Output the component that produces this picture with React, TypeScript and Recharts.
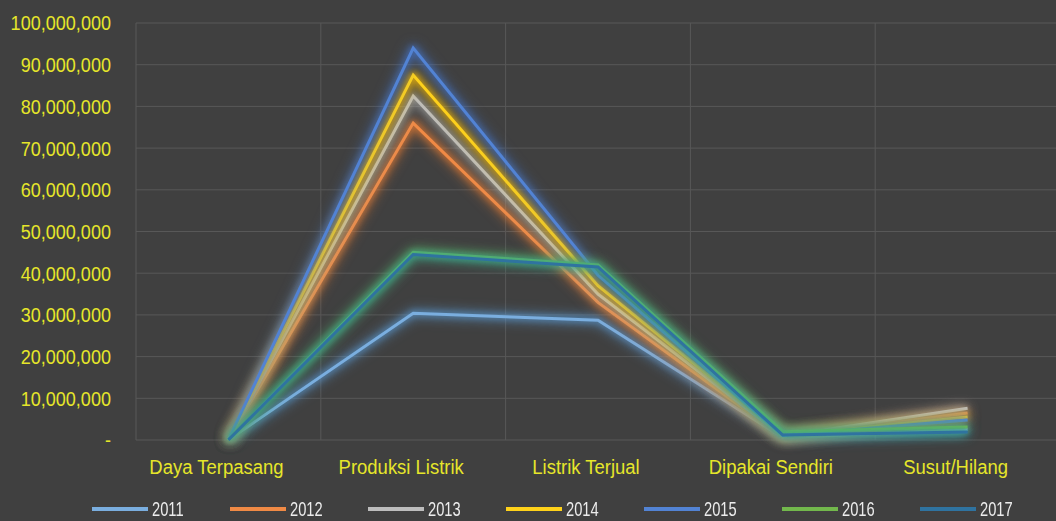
import { LineChart, Line, XAxis, YAxis, CartesianGrid, Legend } from 'recharts';

const categories = ['Daya Terpasang', 'Produksi Listrik', 'Listrik Terjual', 'Dipakai Sendiri', 'Susut/Hilang'];

const v2011 = [29000, 30400000, 28700000, 600000, 2500000];
const v2012 = [32900, 76000000, 33000000, 700000, 6500000];
const v2013 = [34200, 82500000, 35000000, 900000, 7600000];
const v2014 = [37300, 87500000, 37000000, 1000000, 5500000];
const v2015 = [38400, 94000000, 39500000, 1100000, 4800000];
const v2016 = [39800, 45000000, 42000000, 2000000, 3100000];
const v2017 = [39200, 44500000, 41500000, 1200000, 1900000];

const yTicks = [0, 10000000, 20000000, 30000000, 40000000, 50000000, 60000000, 70000000, 80000000, 90000000, 100000000];

const series = [
  { key: 'y2011', name: '2011', values: v2011, color: '#7aaedf', glow: '#5b9bd5' },
  { key: 'y2012', name: '2012', values: v2012, color: '#f08a45', glow: '#ed7d31' },
  { key: 'y2013', name: '2013', values: v2013, color: '#bdbdbd', glow: '#a5a5a5' },
  { key: 'y2014', name: '2014', values: v2014, color: '#ffd21a', glow: '#ffc000' },
  { key: 'y2015', name: '2015', values: v2015, color: '#5283d4', glow: '#4472c4' },
  { key: 'y2016', name: '2016', values: v2016, color: '#72b84c', glow: '#70ad47' },
  { key: 'y2017', name: '2017', values: v2017, color: '#2f73a0', glow: '#2aa0a0' },
];

const data = categories.map((name, i) => {
  const row: any = { name };
  series.forEach(s => { row[s.key] = s.values[i]; });
  return row;
});

const FONT = "'Liberation Sans', Arial, sans-serif";
const LABEL = '#e6e62a';

const formatY = (v: number) => (v === 0 ? '-' : v.toLocaleString('en-US'));

const glowCss = series
  .map(s => `.${s.key} path { filter: drop-shadow(0 0 3px ${s.glow}) drop-shadow(0 0 6px ${s.glow}); }`)
  .join('\n');

const YTick = ({ x, y, payload }: any) => (
  <g transform={`translate(${x},${y})`}>
    <text x={0} y={0} dy="0.355em" textAnchor="end" fill={LABEL} fontSize={21} fontFamily={FONT} transform="scale(0.86,1)">
      {formatY(payload.value)}
    </text>
  </g>
);

const XTick = ({ x, y, payload }: any) => (
  <g transform={`translate(${x - 12},${y})`}>
    <text x={0} y={0} dy="0.71em" textAnchor="middle" fill={LABEL} fontSize={21} fontFamily={FONT} transform="scale(0.88,1)">
      {payload.value}
    </text>
  </g>
);

const LegendContent = () => (
  <div style={{ display: 'flex', paddingLeft: 92, height: 24, alignItems: 'center' }}>
    {series.map(s => (
      <div key={s.key} style={{ width: 138, display: 'flex', alignItems: 'center' }}>
        <svg width={56} height={6} style={{ marginRight: 4 }}>
          <line x1={0} y1={3} x2={56} y2={3} stroke={s.color} strokeWidth={4} />
        </svg>
        <span
          style={{
            display: 'inline-block',
            color: '#ececec',
            fontFamily: FONT,
            fontSize: 21,
            lineHeight: '22px',
            transform: 'scaleX(0.7)',
            transformOrigin: 'left center',
          }}
        >
          {s.name}
        </span>
      </div>
    ))}
  </div>
);

export default function App() {
  return (
    <div style={{ position: 'absolute', left: 0, top: 0, width: 1056, height: 521, background: '#404040', overflow: 'hidden' }}>
      <style>{glowCss}</style>
      <LineChart width={1056} height={521} data={data} margin={{ top: 23, right: -4, bottom: 0, left: 0 }}>
        <CartesianGrid
          stroke="#585858"
          verticalCoordinatesGenerator={({ offset }: any) =>
            categories.map((_, i) => offset.left + (i * offset.width) / categories.length).concat([offset.left + offset.width])
          }
        />
        <XAxis
          dataKey="name"
          axisLine={false}
          tickLine={false}
          tickSize={0}
          tickMargin={19}
          height={57}
          interval={0}
          tick={<XTick />}
          scale="band"
        />
        <YAxis
          domain={[0, 100000000]}
          ticks={yTicks}
          width={136}
          axisLine={false}
          tickLine={false}
          tickSize={0}
          tickMargin={25}
          tick={<YTick />}
        />
        <Legend verticalAlign="bottom" height={24} content={<LegendContent />} />
        {series.map(s => (
          <Line
            key={s.key}
            className={s.key}
            dataKey={s.key}
            name={s.name}
            stroke={s.color}
            strokeWidth={3}
            dot={false}
            activeDot={false}
            isAnimationActive={false}
          />
        ))}
      </LineChart>
    </div>
  );
}
